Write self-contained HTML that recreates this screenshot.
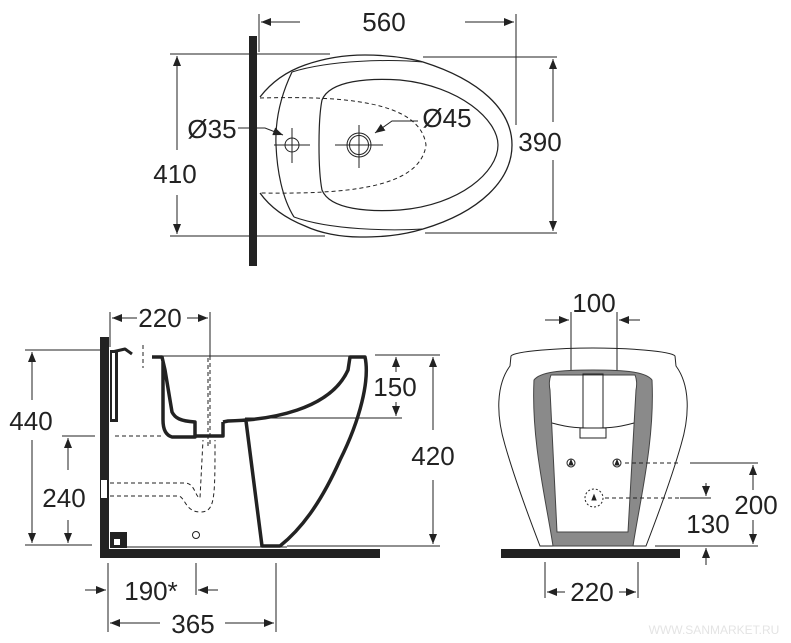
<!DOCTYPE html>
<html><head><meta charset="utf-8"><style>
html,body{margin:0;padding:0;background:#fff;}
svg{display:block;}
text{font-family:"Liberation Sans",sans-serif;fill:#222;}
</style></head><body>
<svg width="791" height="643" viewBox="0 0 791 643" xmlns="http://www.w3.org/2000/svg">
<defs>
<marker id="a" markerWidth="10" markerHeight="8" refX="10" refY="4" orient="auto" markerUnits="userSpaceOnUse"><path d="M0,0 L10,4 L0,8 Z" fill="#222"/></marker>
</defs>
<g stroke="#222" stroke-width="1" fill="none">
<!-- TOP VIEW -->
<line x1="259" y1="14" x2="259" y2="52"/>
<line x1="516" y1="14" x2="516" y2="125"/>
<line x1="300" y1="22" x2="261" y2="22" marker-end="url(#a)"/>
<line x1="465" y1="22" x2="514" y2="22" marker-end="url(#a)"/>
<line x1="170" y1="54" x2="330" y2="54"/>
<line x1="170" y1="236" x2="325" y2="236"/>
<line x1="177" y1="150" x2="177" y2="56" marker-end="url(#a)"/>
<line x1="177" y1="195" x2="177" y2="234" marker-end="url(#a)"/>
<line x1="423" y1="57" x2="557" y2="57"/>
<line x1="425" y1="233" x2="557" y2="233"/>
<line x1="553" y1="122" x2="553" y2="59" marker-end="url(#a)"/>
<line x1="553" y1="160" x2="553" y2="231" marker-end="url(#a)"/>
<path d="M260,97 C270,84 285,72 305,65 C325,58 345,55 365,55 C400,55 423,62 423,62 C480,80 512,110 512,145 C512,180 480,212 423,229 C400,236 380,237 360,237 C340,237 320,233 305,226 C285,218 270,207 260,193" stroke-width="1.3"/>
<path d="M292,72 C281,95 275,120 276,145 C277,170 282,198 294,217" stroke-width="1.2"/>
<path d="M292,72 C330,60 390,59 423,62"/>
<path d="M294,217 C330,230 390,231 423,229"/>
<path d="M322,100 C330,80 370,78 400,80 C460,86 498,120 498,145 C498,172 460,205 400,210 C370,212 330,210 322,190 C318,170 318,120 322,100 Z" stroke-width="1.2"/>
<path d="M260,98 C340,96 420,100 426,145 C420,190 340,194 260,193" stroke-dasharray="4,3"/>
<circle cx="292" cy="145" r="7"/>
<line x1="274" y1="145" x2="310" y2="145"/><line x1="292" y1="128" x2="292" y2="163"/>
<circle cx="359" cy="145" r="12"/><circle cx="359" cy="145" r="9.5"/>
<line x1="335" y1="145" x2="383" y2="145"/><line x1="359" y1="125" x2="359" y2="168"/>
<path d="M238,128 L265,128 L283,135" marker-end="url(#a)"/>
<path d="M418,121 L392,121 L375,133" marker-end="url(#a)"/>

<!-- SIDE VIEW -->
<line x1="110" y1="312" x2="110" y2="347"/>
<line x1="210" y1="312" x2="210" y2="356"/>
<line x1="210" y1="356" x2="210" y2="445" stroke-dasharray="4,3"/>
<line x1="137" y1="318" x2="112" y2="318" marker-end="url(#a)"/>
<line x1="187" y1="318" x2="208" y2="318" marker-end="url(#a)"/>
<line x1="25" y1="350" x2="100" y2="350"/>
<line x1="25" y1="545" x2="92" y2="545"/>
<line x1="32" y1="400" x2="32" y2="352" marker-end="url(#a)"/>
<line x1="32" y1="440" x2="32" y2="543" marker-end="url(#a)"/>
<line x1="62" y1="436" x2="95" y2="436"/>
<line x1="68" y1="470" x2="68" y2="438" marker-end="url(#a)"/>
<line x1="68" y1="520" x2="68" y2="543" marker-end="url(#a)"/>
<line x1="375" y1="355" x2="440" y2="355"/>
<line x1="287" y1="546" x2="440" y2="546"/>
<line x1="433" y1="430" x2="433" y2="357" marker-end="url(#a)"/>
<line x1="433" y1="480" x2="433" y2="544" marker-end="url(#a)"/>
<line x1="245" y1="418" x2="402" y2="418"/>
<line x1="396" y1="372" x2="396" y2="357" marker-end="url(#a)"/>
<line x1="396" y1="402" x2="396" y2="416" marker-end="url(#a)"/>
<line x1="108" y1="563" x2="108" y2="632"/>
<line x1="196" y1="563" x2="196" y2="595"/>
<line x1="276" y1="563" x2="276" y2="632"/>
<line x1="85" y1="590" x2="106" y2="590" marker-end="url(#a)"/>
<line x1="218" y1="590" x2="198" y2="590" marker-end="url(#a)"/>
<line x1="160" y1="623" x2="110" y2="623" marker-end="url(#a)"/>
<line x1="225" y1="623" x2="274" y2="623" marker-end="url(#a)"/>
<g stroke-dasharray="4,3">
<line x1="143" y1="345" x2="143" y2="368"/>
<line x1="208" y1="358" x2="208" y2="448"/>
<line x1="115" y1="436" x2="163" y2="436"/>
<path d="M110,483 L185,483 C195,483 195,497 200,498 L203,440"/>
<path d="M110,496 L178,496 C185,496 185,512 200,512 C215,512 215,500 215,440"/>
</g>
<line x1="152" y1="356" x2="366" y2="356"/>
<g stroke-width="3.5" stroke-linejoin="round">
<path d="M152,357 L162,357 L165,370 L172,412 C175,418 180,421 195,422 L195,437 L172,437 C165,435 163,428 163,420 L163,362"/>
<path d="M223,422 L223,436 L195,436"/>
<path d="M223,422 L228,421 C270,420 330,410 348,370 L350,357 L365,357 C370,380 360,420 340,460 C320,505 300,530 280,546 L262,546 L246,421"/>
<path d="M112,352 L125,349 L132,354" stroke-width="3"/>
</g>
<line x1="125" y1="547" x2="287" y2="547"/>
<circle cx="196" cy="535" r="3.5"/>

<!-- FRONT VIEW -->
<line x1="571" y1="312" x2="571" y2="455"/>
<line x1="617" y1="312" x2="617" y2="455"/>
<line x1="545" y1="320" x2="569" y2="320" marker-end="url(#a)"/>
<line x1="640" y1="320" x2="619" y2="320" marker-end="url(#a)"/>
<path d="M553,546 L540,546 C530,520 515,480 505,445 C496,415 496,385 510,366 L511,356 C515,351 560,348 593,348 C626,348 671,351 675,356 L676,366 C690,385 690,415 681,445 C671,480 656,520 646,546 L632,546"/>
<path d="M534,380 C540,372 560,370 593,370 C626,370 646,372 652,380 C655,440 640,500 633,546 L553,546 C546,500 531,440 534,380 Z" fill="#8a8a8a" stroke="#444"/>
<path d="M551,375 L635,375 C637,380 637,385 636,390 L628,532 L557,532 L550,390 C549,385 549,380 551,375 Z" fill="#fff" stroke="#444"/>
<path d="M552,423 C570,428 580,428 593,428 C606,428 616,428 634,423"/>
<rect x="583" y="374" width="20" height="54"/>
<rect x="580" y="428" width="26" height="10"/>
<circle cx="571" cy="463" r="4"/><circle cx="617" cy="463" r="4"/>
<path d="M569,465 L571,460 L573,465 Z" fill="#222"/><path d="M615,465 L617,460 L619,465 Z" fill="#222"/>
<circle cx="594" cy="498" r="9" stroke-dasharray="2,2"/>
<path d="M592,500 L594,495 L596,500 Z" fill="#222"/>
<line x1="625" y1="463" x2="680" y2="463" stroke-dasharray="4,3"/>
<line x1="690" y1="463" x2="758" y2="463"/>
<line x1="605" y1="498" x2="680" y2="498" stroke-dasharray="4,3"/>
<line x1="680" y1="498" x2="711" y2="498"/>
<line x1="655" y1="546" x2="758" y2="546"/>
<line x1="753" y1="490" x2="753" y2="465" marker-end="url(#a)"/>
<line x1="753" y1="520" x2="753" y2="544" marker-end="url(#a)"/>
<line x1="706" y1="483" x2="706" y2="496" marker-end="url(#a)"/>
<line x1="706" y1="565" x2="706" y2="548" marker-end="url(#a)"/>
<line x1="545" y1="562" x2="545" y2="598"/>
<line x1="638" y1="562" x2="638" y2="598"/>
<line x1="565" y1="592" x2="547" y2="592" marker-end="url(#a)"/>
<line x1="619" y1="592" x2="636" y2="592" marker-end="url(#a)"/>
</g>
<rect x="249" y="36" width="8" height="230" fill="#222"/>
<rect x="100" y="337" width="9" height="221" fill="#222"/>
<rect x="100" y="549" width="280" height="9" fill="#222"/>
<rect x="110" y="350" width="8" height="72" fill="#222"/>
<rect x="112" y="353" width="3" height="66" fill="#fff"/>
<rect x="101" y="480" width="6" height="18" fill="#fff"/>
<rect x="110" y="532" width="17" height="16" fill="#222"/>
<rect x="114" y="539" width="6" height="6" fill="#fff"/>
<rect x="501" y="549" width="179" height="9" fill="#222"/>
<g font-size="26">
<text x="384" y="31" text-anchor="middle">560</text>
<text x="175" y="183" text-anchor="middle">410</text>
<text x="540" y="151" text-anchor="middle">390</text>
<text x="212" y="138" text-anchor="middle">Ø35</text>
<text x="447" y="127" text-anchor="middle">Ø45</text>
<text x="160" y="327" text-anchor="middle">220</text>
<text x="31" y="430" text-anchor="middle">440</text>
<text x="64" y="507" text-anchor="middle">240</text>
<text x="395" y="396" text-anchor="middle">150</text>
<text x="433" y="465" text-anchor="middle">420</text>
<text x="151" y="600" text-anchor="middle">190*</text>
<text x="193" y="633" text-anchor="middle">365</text>
<text x="594" y="312" text-anchor="middle">100</text>
<text x="756" y="514" text-anchor="middle">200</text>
<text x="708" y="533" text-anchor="middle">130</text>
<text x="592" y="601" text-anchor="middle">220</text>
</g>
<text x="714" y="634" text-anchor="middle" font-size="12" style="fill:#e4e4e4">WWW.SANMARKET.RU</text>
</svg>
</body></html>
